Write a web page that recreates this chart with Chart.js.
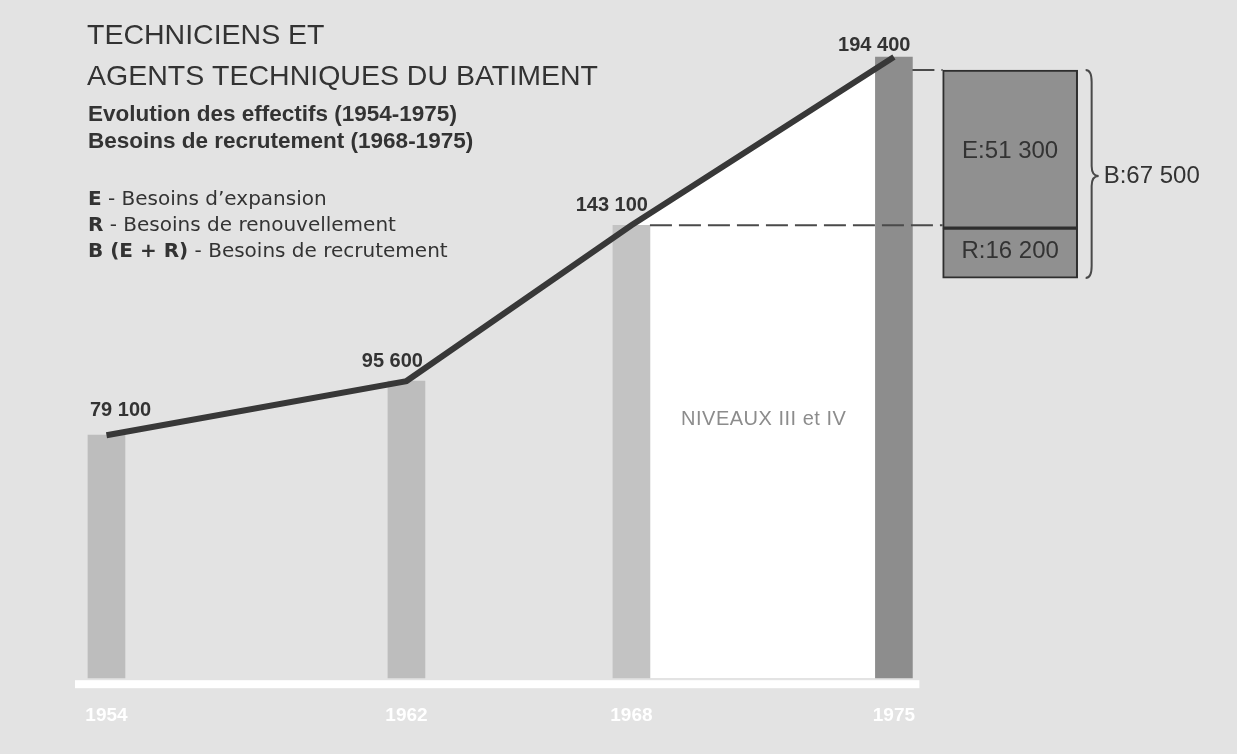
<!DOCTYPE html>
<html>
<head>
<meta charset="utf-8">
<script src="https://cdn.jsdelivr.net/npm/chart.js@4.4.1/dist/chart.umd.min.js"></script>
<style>
  html, body { margin: 0; padding: 0; background: #e3e3e3; }
  #wrap { position: relative; width: 1237px; height: 754px; }
</style>
</head>
<body>
<div id="wrap"><canvas id="chart" width="1237" height="754"></canvas></div>
<script>
// Techniciens et agents techniques du bâtiment : effectifs 1954-1975
// et besoins de recrutement 1968-1975 (boîte empilée à droite).

const years = [1954, 1962, 1968, 1975];
const effectifs = [79100, 95600, 143100, 194400];
const effectifLabels = ['79 100', '95 600', '143 100', '194 400'];

const besoinsYear = 1978.1;
const renouvellement = 16200;
const expansion = 51300;
const besoinsLabels = ['R:16 200', 'E:51 300'];
const totalLabel = 'B:67 500';

const FONT = "'Liberation Sans', Arial, Helvetica, sans-serif";
const WIDE = "'DejaVu Sans', Verdana, sans-serif";
const INK = '#333333';

const points = years.map((x, i) => ({ x, y: effectifs[i] }));

const decor = {
  id: 'decor',
  afterDatasetsDraw(chart) {
    const { ctx, chartArea } = chart;
    const yS = chart.scales.y;
    const y2S = chart.scales.y2;
    const bars = chart.getDatasetMeta(1).data;
    const rBox = chart.getDatasetMeta(2).data[0];
    const eBox = chart.getDatasetMeta(3).data[0];
    const half = (el) => el.width / 2;

    ctx.save();

    // bande blanche de l'axe
    const first = bars[0], last = bars[bars.length - 1];
    ctx.fillStyle = '#ffffff';
    ctx.fillRect(first.x - half(first) - 13, chartArea.bottom + 2,
      (last.x + half(last) + 7) - (first.x - half(first) - 13), 8);

    // tirets vers la boîte
    const boxLeft = eBox.x - half(eBox);
    ctx.strokeStyle = '#4a4a4a';
    ctx.lineWidth = 2;
    ctx.setLineDash([22, 7]);
    const y68 = yS.getPixelForValue(effectifs[2]);
    ctx.beginPath();
    ctx.moveTo(bars[2].x + half(bars[2]), y68);
    ctx.lineTo(boxLeft, y68);
    const yTop = y2S.getPixelForValue(renouvellement + expansion);
    ctx.moveTo(last.x + half(last), yTop);
    ctx.lineTo(boxLeft, yTop);
    ctx.stroke();
    ctx.setLineDash([]);

    // textes dans la boîte
    ctx.fillStyle = INK;
    ctx.font = `24px ${FONT}`;
    ctx.textAlign = 'center';
    ctx.textBaseline = 'middle';
    ctx.fillText(besoinsLabels[0], rBox.x, (rBox.y + rBox.base) / 2 - 2);
    ctx.fillText(besoinsLabels[1], eBox.x, (eBox.y + eBox.base) / 2 + 2);

    // accolade
    const bx = eBox.x + half(eBox) + 8;
    const top = eBox.y, bottom = rBox.base;
    const mid = (top + bottom) / 2 + 2;
    ctx.beginPath();
    ctx.lineWidth = 2;
    ctx.moveTo(bx, top);
    ctx.quadraticCurveTo(bx + 6, top, bx + 6, top + 12);
    ctx.lineTo(bx + 6, mid - 10);
    ctx.quadraticCurveTo(bx + 6, mid, bx + 13, mid);
    ctx.quadraticCurveTo(bx + 6, mid, bx + 6, mid + 10);
    ctx.lineTo(bx + 6, bottom - 12);
    ctx.quadraticCurveTo(bx + 6, bottom, bx, bottom);
    ctx.stroke();
    ctx.textAlign = 'left';
    ctx.fillText(totalLabel, bx + 18, mid);

    // valeurs des effectifs
    ctx.font = `bold 20px ${FONT}`;
    ctx.textBaseline = 'alphabetic';
    bars.forEach((b, i) => {
      const py = yS.getPixelForValue(effectifs[i]);
      if (i === 0) {
        ctx.textAlign = 'left';
        ctx.fillText(effectifLabels[i], b.x - half(b) + 2, py - 19);
      } else {
        ctx.textAlign = 'right';
        ctx.fillText(effectifLabels[i], b.x + half(b) - 2, py - (i === bars.length - 1 ? 6 : 14));
      }
    });

    // niveaux
    ctx.fillStyle = '#8c8c8c';
    ctx.font = `20px ${FONT}`;
    ctx.textAlign = 'center';
    ctx.textBaseline = 'middle';
    ctx.letterSpacing = '0.5px';
    ctx.fillText('NIVEAUX III et IV', (bars[2].x + bars[3].x) / 2 + 1, 419);
    ctx.letterSpacing = '0px';

    // titres
    ctx.fillStyle = INK;
    ctx.textAlign = 'left';
    ctx.font = `28.5px ${FONT}`;
    ctx.fillText('TECHNICIENS ET', 87, 36);
    ctx.fillText('AGENTS TECHNIQUES DU BATIMENT', 87, 77);
    ctx.font = `bold 22.5px ${FONT}`;
    ctx.fillText('Evolution des effectifs (1954-1975)', 88, 115);
    ctx.fillText('Besoins de recrutement (1968-1975)', 88, 142);

    const legend = [
      ['E', ' - Besoins d\u2019expansion', 200],
      ['R', ' - Besoins de renouvellement', 226],
      ['B (E + R)', ' - Besoins de recrutement', 252],
    ];
    legend.forEach(([key, text, y]) => {
      ctx.font = `bold 20px ${WIDE}`;
      ctx.fillText(key, 88, y);
      const w = ctx.measureText(key).width;
      ctx.font = `20px ${WIDE}`;
      ctx.fillText(text, 88 + w, y);
    });

    ctx.restore();
  }
};

new Chart(document.getElementById('chart').getContext('2d'), {
  type: 'bar',
  data: {
    datasets: [
      {
        type: 'line',
        label: 'zone',
        data: points.slice(2),
        fill: 'start',
        backgroundColor: '#ffffff',
        borderWidth: 0,
        pointRadius: 0,
        order: 5,
      },
      {
        label: 'Effectifs',
        data: points,
        backgroundColor: ['#bdbdbd', '#bdbdbd', '#c3c3c3', '#8d8d8d'],
        barThickness: 37,
        grouped: false,
        order: 4,
      },
      {
        label: 'R',
        data: [{ x: besoinsYear, y: [0, renouvellement] }],
        yAxisID: 'y2',
        backgroundColor: '#909090',
        borderColor: '#2e2e2e',
        borderWidth: 2,
        borderSkipped: false,
        barThickness: 135,
        grouped: false,
        order: 3,
      },
      {
        label: 'E',
        data: [{ x: besoinsYear, y: [renouvellement, renouvellement + expansion] }],
        yAxisID: 'y2',
        backgroundColor: '#909090',
        borderColor: '#2e2e2e',
        borderWidth: 2,
        borderSkipped: false,
        barThickness: 135,
        grouped: false,
        order: 2,
      },
      {
        type: 'line',
        label: 'Evolution',
        data: points,
        borderColor: '#383838',
        borderWidth: 6,
        borderJoinStyle: 'miter',
        pointRadius: 0,
        fill: false,
        tension: 0,
        order: 1,
      },
    ]
  },
  options: {
    responsive: false,
    animation: false,
    layout: { padding: { left: 0, right: 0, top: 0, bottom: 1 } },
    plugins: { legend: { display: false }, tooltip: { enabled: false }, title: { display: false } },
    scales: {
      x: {
        type: 'linear',
        min: 1951.16,
        max: 1984.15,
        offset: false,
        grid: { display: false, drawTicks: false, offset: false },
        border: { display: false },
        afterBuildTicks: (scale) => { scale.ticks = years.map((v) => ({ value: v })); },
        ticks: {
          color: '#ffffff',
          autoSkip: false,
          maxRotation: 0,
          padding: 26,
          font: { family: FONT, size: 19, weight: 'bold' },
          callback: (v) => String(v),
        },
      },
      y: { display: false, min: 5000, max: 211800 },
      y2: { display: false, min: -129800, max: 90200 },
    }
  },
  plugins: [decor]
});
</script>
</body>
</html>
